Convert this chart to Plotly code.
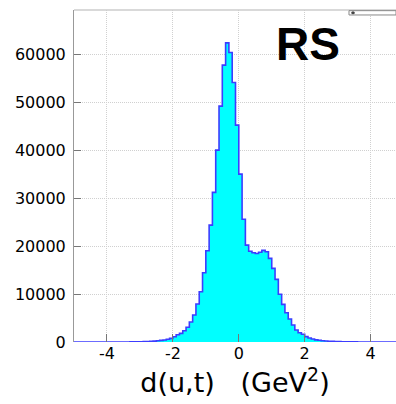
import numpy as np
import plotly.graph_objects as go

# Histogram bins: width 0.1 from -5 to 5
bin_lo = -5.0
bin_width = 0.1
counts = [
    0, 0, 0, 0, 0, 0, 0, 0, 0, 0,            # -5.0 .. -4.1
    0, 0, 0, 0, 0,                           # -4.0 .. -3.6
    10, 15, 20, 30, 40,                      # -3.5 .. -3.1
    55, 70, 95, 130, 180,                    # -3.0 .. -2.6
    250, 330, 420, 560, 760,                 # -2.5 .. -2.1
    1100, 1520, 1800, 2360, 3060,            # -2.0 .. -1.6
    4170, 5620, 7920, 10480, 14440,          # -1.5 .. -1.1
    19020, 24370, 31180, 40000, 49170,       # -1.0 .. -0.6
    57700, 62350, 60340, 54100, 45200,       # -0.5 .. -0.1
    35000, 25600, 20200, 18900, 18600,       #  0.0 ..  0.4
    18450, 18700, 19100, 18800, 17430,       #  0.5 ..  0.9
    15350, 13060, 9950, 7850, 6100,          #  1.0 ..  1.4
    4800, 3540, 2500, 1940, 1600,            #  1.5 ..  1.9
    1110, 830, 625, 450, 350,                #  2.0 ..  2.4
    270, 210, 160, 120, 95,                  #  2.5 ..  2.9
    75, 60, 45, 35, 28,                      #  3.0 ..  3.4
    20, 15, 10, 8, 5,                        #  3.5 ..  3.9
    0, 0, 0, 0, 0, 0, 0, 0, 0, 0,            #  4.0 ..  4.9
]
x_ticks = [-4, -2, 0, 2, 4]
y_ticks = [0, 10000, 20000, 30000, 40000, 50000, 60000]
x_title = "d(u,t)   (GeV<sup>2</sup>)"
label = "RS"

edges = bin_lo + bin_width * np.arange(len(counts) + 1)
y_step = list(counts) + [counts[-1]]

fig = go.Figure()
fig.add_trace(go.Scatter(
    x=edges, y=y_step, mode="lines", line_shape="hv",
    line=dict(color="#3c3cff", width=1.6),
    fill="tozeroy", fillcolor="#00ffff", hoverinfo="skip", showlegend=False,
))

tick_family = "DejaVu Sans, Verdana, sans-serif"
bold_family = "Liberation Sans, Arial, sans-serif"
fig.update_layout(
    width=396, height=404,
    margin=dict(l=74, r=0, t=10, b=62),
    paper_bgcolor="white", plot_bgcolor="white",
    showlegend=False,
    font=dict(family=tick_family, color="black"),
    xaxis=dict(
        range=[-5, 4.77], tickvals=x_ticks, ticktext=[str(v) for v in x_ticks],
        ticks="inside", ticklen=8, tickcolor="#777777", tickwidth=1,
        showgrid=True, gridcolor="#d0d0d0", griddash="1px,1px", gridwidth=1,
        zeroline=False, showline=False,
        tickfont=dict(size=16, family=tick_family, color="black"),
        title=dict(text=x_title, font=dict(size=27, family=tick_family, color="black"), standoff=6),
        layer="above traces",
    ),
    yaxis=dict(
        range=[0, 69200], tickvals=y_ticks, ticktext=[str(v) for v in y_ticks],
        ticks="inside", ticklen=7, tickcolor="#777777", tickwidth=1,
        showgrid=True, gridcolor="#d0d0d0", griddash="1px,1px", gridwidth=1,
        zeroline=False, showline=True, linecolor="#999999", linewidth=1,
        mirror=False, ticklabelstandoff=4,
        tickfont=dict(size=16, family=tick_family, color="black"),
        layer="above traces",
    ),
)

# top frame line
fig.add_shape(type="line", xref="paper", yref="paper", x0=0, x1=1, y0=1, y1=1,
              line=dict(color="#cccccc", width=1.5))

# small stats box at top right
fig.add_shape(type="rect", xref="paper", yref="paper", x0=0.854, x1=1.0, y0=0.985, y1=0.998,
              line=dict(color="#888888", width=1), fillcolor="white")
fig.add_shape(type="rect", xref="paper", yref="paper", x0=0.863, x1=0.870, y0=0.989, y1=0.994,
              line=dict(color="#444444", width=1), fillcolor="#444444")

fig.add_annotation(text="<b>" + label + "</b>", xref="paper", yref="paper",
                   x=(308 - 74) / 322, y=1 - (44 - 10) / 332, showarrow=False,
                   font=dict(size=46, family=bold_family, color="black"),
                   xanchor="center", yanchor="middle")

fig.write_html("out.html")
